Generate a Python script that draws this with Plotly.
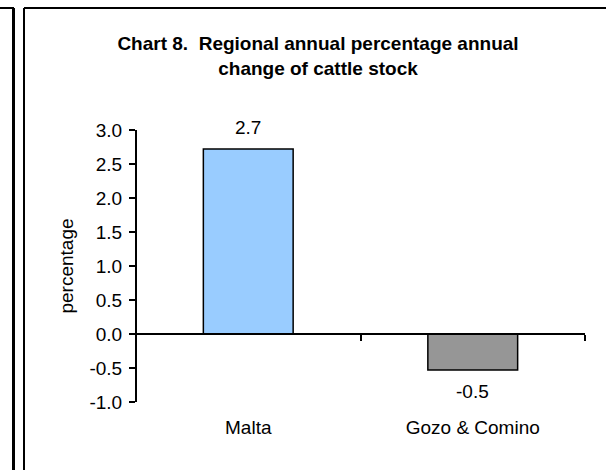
import plotly.graph_objects as go

# ---- data ----
categories = ["Malta", "Gozo & Comino"]
values = [2.72, -0.53]
value_labels = ["2.7", "-0.5"]
bar_colors = ["#99CCFF", "#969696"]
y_tickvals = [-1.0, -0.5, 0.0, 0.5, 1.0, 1.5, 2.0, 2.5, 3.0]
y_ticktext = ["-1.0", "-0.5", "0.0", "0.5", "1.0", "1.5", "2.0", "2.5", "3.0"]
title_text = "Chart 8.  Regional annual percentage annual<br>change of cattle stock"
y_title = "percentage"

W, H = 606, 470
ML, MR, MT, MB = 136, 21, 130, 68
FONT = "Arial, Liberation Sans, sans-serif"

fig = go.Figure()
fig.add_trace(go.Bar(
    x=categories, y=values, width=0.4,
    marker=dict(color=bar_colors, line=dict(color="black", width=1.5)),
    hoverinfo="skip",
))

# data labels
for c, v, t in zip(categories, values, value_labels):
    fig.add_annotation(x=c, y=v, text=t, showarrow=False,
                       yanchor="middle", yshift=22 if v >= 0 else -21,
                       font=dict(size=19, color="black", family=FONT))

pw = W - ML - MR
ph = H - MT - MB
def px_x(p):
    return (p - ML) / pw
def px_y(p):
    return (H - MB - p) / ph

frame = dict(color="black", width=2)
shapes = [
    dict(type="line", xref="paper", yref="paper", x0=px_x(0), x1=px_x(14), y0=px_y(8), y1=px_y(8), line=frame),
    dict(type="line", xref="paper", yref="paper", x0=px_x(13.5), x1=px_x(13.5), y0=px_y(8), y1=px_y(470), line=dict(color="black", width=3)),
    dict(type="line", xref="paper", yref="paper", x0=px_x(24), x1=px_x(606), y0=px_y(8), y1=px_y(8), line=frame),
    dict(type="line", xref="paper", yref="paper", x0=px_x(24), x1=px_x(24), y0=px_y(8), y1=px_y(470), line=frame),
]

y_min, y_max = -1.0, 3.0
fig.update_layout(
    width=W, height=H,
    margin=dict(l=ML, r=MR, t=MT, b=MB, autoexpand=False),
    paper_bgcolor="white", plot_bgcolor="white",
    showlegend=False,
    font=dict(family=FONT, size=19, color="black"),
    title=dict(text=title_text, x=318 / W, xanchor="center", xref="container",
               y=1 - 50 / H, yanchor="top", yref="container",
               font=dict(size=19, family=FONT, color="black", weight="bold")),
    shapes=shapes,
    bargap=0.6,
)
fig.update_xaxes(
    type="category", anchor="free", position=(0 - y_min) / (y_max - y_min),
    showline=True, linecolor="black", linewidth=2,
    ticks="outside", tickson="boundaries", ticklen=6, tickwidth=2, tickcolor="black",
    showgrid=False, zeroline=False,
    tickfont=dict(size=19, family=FONT, color="black"),
    ticklabelstandoff=76,
    fixedrange=True,
)
fig.update_yaxes(
    range=[y_min, y_max], anchor="free", position=0,
    tickvals=y_tickvals, ticktext=y_ticktext,
    showline=True, linecolor="black", linewidth=2,
    ticks="outside", ticklen=6, tickwidth=2, tickcolor="black",
    showgrid=False, zeroline=False,
    tickfont=dict(size=19, family=FONT, color="black"),
    ticklabelstandoff=3,
    title=dict(text=y_title, standoff=10, font=dict(size=19, family=FONT, color="black")),
    fixedrange=True,
)

fig.write_html("out.html", config={"displayModeBar": False},
               post_script="document.body.style.margin='0px';")
